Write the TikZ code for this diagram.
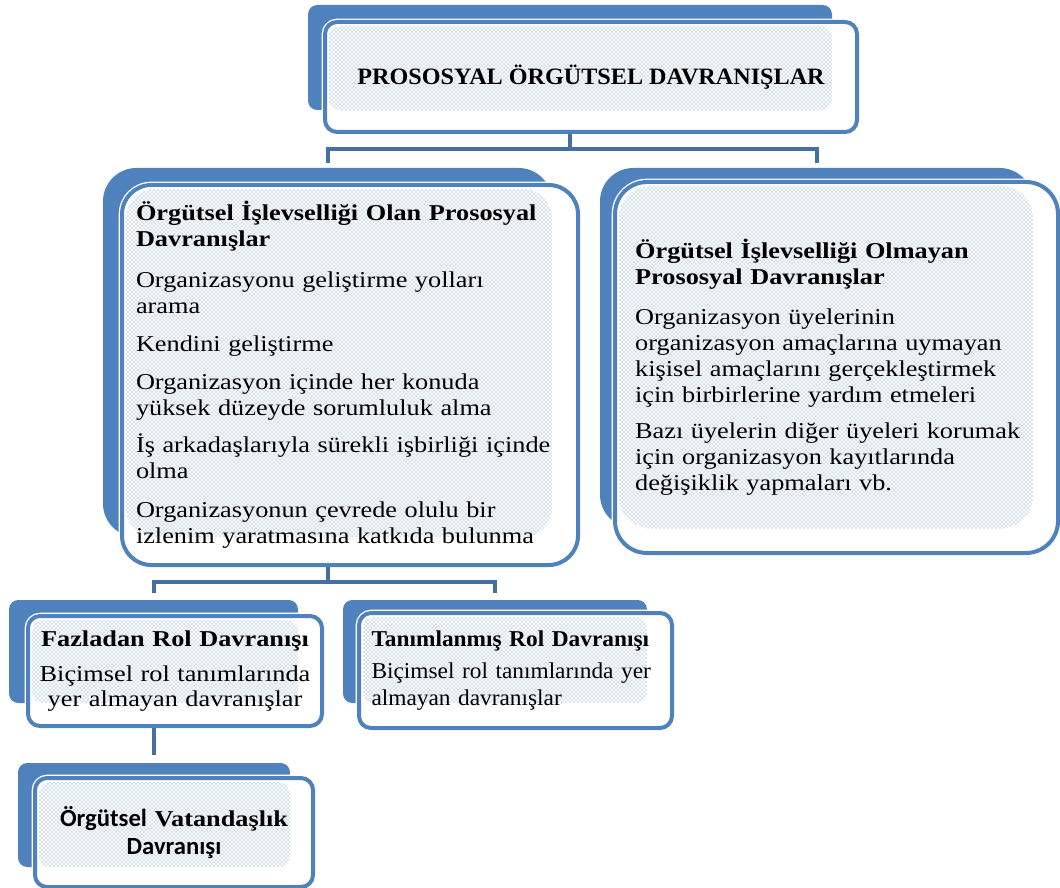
\documentclass[tikz,border=0pt]{standalone}
\usepackage{fontspec}
\setmainfont{Liberation Serif}[FakeStretch=1.16]
\newfontfamily\narrowrm{Liberation Serif}[FakeStretch=1.03]
\newfontfamily\calibri{Carlito}
\usetikzlibrary{patterns}
\definecolor{tabblue}{HTML}{4F81BD}
\definecolor{linkblue}{HTML}{44719F}
\tikzset{
  tab/.style={fill=tabblue, draw=none, inner sep=0pt},
  card/.style={draw=tabblue, line width=3pt, fill=white, inner sep=0pt,
    preaction={draw=white, line width=5pt},
    path picture={\fill[pattern=crosshatch dots, pattern color=tabblue]
      ([shift={(4,4)}]path picture bounding box.north west) rectangle (#1.south east);}},
  link/.style={draw=linkblue, line width=3pt},
  body/.style={font=\fontsize{17}{19.5}\selectfont},
}
\begin{document}
\begin{tikzpicture}[x=0.75pt, y=-0.75pt]
  \useasboundingbox (0,0) rectangle (1060,888);
  % top box
  \node[tab, rounded corners=7pt, minimum width=393pt, minimum height=78.75pt] (topTab) at (570,57.5) {};
  \node[card=topTab, rounded corners=9pt, minimum width=399pt, minimum height=82.5pt,
    font=\narrowrm\bfseries\fontsize{17.6}{20}\selectfont] (top) at (591,77) {PROSOSYAL ÖRGÜTSEL DAVRANIŞLAR};
  % middle boxes
  \node[tab, rounded corners=25pt, minimum width=336.75pt, minimum height=276.75pt] (olanTab) at (327.5,352.5) {};
  \node[card=olanTab, body, rounded corners=22pt, minimum width=342pt, minimum height=285pt,
    text width=321pt, align=left] (olan) at (350,375) {%
    \textbf{Örgütsel İşlevselliği Olan Prososyal\\ Davranışlar}\\[11pt]
    Organizasyonu geliştirme yolları\\ arama\\[9pt]
    Kendini geliştirme\\[9pt]
    Organizasyon içinde her konuda\\ yüksek düzeyde sorumluluk alma\\[8pt]
    İş arkadaşlarıyla sürekli işbirliği içinde\\ olma\\[10pt]
    Organizasyonun çevrede olulu bir\\ izlenim yaratmasına katkıda bulunma};
  \node[tab, rounded corners=25pt, minimum width=324.75pt, minimum height=270pt] (olmayanTab) at (816.5,348) {};
  \node[card=olmayanTab, body, rounded corners=24pt, minimum width=332.25pt, minimum height=278.25pt,
    text width=302pt, align=left] (olmayan) at (836.5,367.5) {%
    \textbf{Örgütsel İşlevselliği Olmayan\\ Prososyal Davranışlar}\\[10pt]
    Organizasyon üyelerinin\\ organizasyon amaçlarına uymayan\\ kişisel amaçlarını gerçekleştirmek\\ için birbirlerine yardım etmeleri\\[8pt]
    Bazı üyelerin diğer üyeleri korumak\\ için organizasyon kayıtlarında\\ değişiklik yapmaları vb.};
  % lower boxes
  \node[tab, rounded corners=7pt, minimum width=216.75pt, minimum height=77.25pt] (fazlaTab) at (153.5,651.5) {};
  \node[card=fazlaTab, rounded corners=9pt, minimum width=220.5pt, minimum height=82.5pt,
    text width=215pt, align=center, font=\fontsize{17}{18.75}\selectfont] (fazla) at (175,671) {%
    \textbf{Fazladan Rol Davranışı}\\[8pt]
    Biçimsel rol tanımlarında\\ yer almayan davranışlar};
  \node[tab, rounded corners=7pt, minimum width=228pt, minimum height=77.25pt] (tanimTab) at (495,651.5) {};
  \node[card=tanimTab, rounded corners=9pt, minimum width=234.75pt, minimum height=86.25pt,
    text width=216pt, align=left, font=\narrowrm\fontsize{17}{20}\selectfont] (tanim) at (515.5,670.5) {%
    \textbf{Tanımlanmış Rol Davranışı}\\[4pt]
    Biçimsel rol tanımlarında yer\\ almayan davranışlar};
  % bottom box
  \node[tab, rounded corners=7pt, minimum width=204pt, minimum height=78pt] (vatanTab) at (154,815) {};
  \node[card=vatanTab, rounded corners=9pt, minimum width=208.5pt, minimum height=81.75pt,
    text width=200pt, align=center, font=\fontsize{17}{20.5}\selectfont] (vatan) at (174,832.5) {%
    {\calibri\bfseries\fontsize{18.5}{20.5}\selectfont Örgütsel} \textbf{Vatandaşlık}\\
    {\calibri\bfseries\fontsize{18.5}{20.5}\selectfont Davranışı}};
  % links
  \draw[link] (topTab |- top.south) -- ++(0,15) coordinate (topBar);
  \draw[link, shorten >=3.75pt] (topBar) -| (olanTab.north);
  \draw[link, shorten >=3.75pt] (topBar) -| (olmayanTab.north);
  \draw[link] (olanTab |- olan.south) -- ++(0,15) coordinate (olanBar);
  \draw[link, shorten >=5pt] (olanBar) -| (fazlaTab.north);
  \draw[link, shorten >=5pt] (olanBar) -| (tanimTab.north);
  \draw[link, shorten >=6pt] (fazlaTab |- fazla.south) -- (fazlaTab |- vatanTab.north);
\end{tikzpicture}
\end{document}
